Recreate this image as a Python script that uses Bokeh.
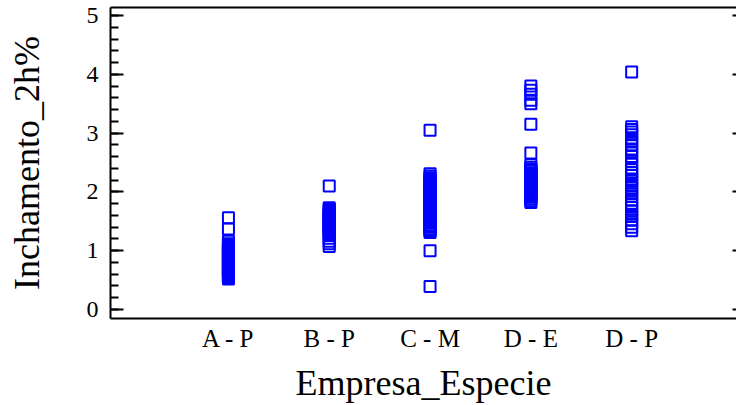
from bokeh.plotting import figure
from bokeh.models import (Range1d, LinearAxis, FixedTicker, SingleIntervalTicker,
                          CustomJSTickFormatter, ColumnDataSource)
from bokeh.embed import file_html
from bokeh.resources import INLINE

categories = ["A - P", "B - P", "C - M", "D - E", "D - P"]

ap_values = [1.56, 1.37, 1.16, 1.12, 1.10, 1.08, 1.06, 1.04, 1.02, 1.00, 0.98, 0.96,
             0.94, 0.92, 0.90, 0.88, 0.86, 0.84, 0.82, 0.80, 0.78, 0.76, 0.74, 0.72,
             0.70, 0.68, 0.66, 0.64, 0.62, 0.60, 0.58, 0.56, 0.54, 0.52]
bp_values = [2.10, 1.73, 1.71, 1.69, 1.67, 1.65, 1.63, 1.61, 1.59, 1.57, 1.55, 1.53,
             1.51, 1.49, 1.47, 1.45, 1.43, 1.41, 1.39, 1.37, 1.35, 1.33, 1.31, 1.28,
             1.26, 1.21, 1.16, 1.12, 1.07]
cm_values = [3.05, 2.31, 2.27, 2.24, 2.21, 2.19, 2.16, 2.13, 2.11, 2.08, 2.06, 2.03,
             2.01, 1.98, 1.96, 1.94, 1.91, 1.89, 1.86, 1.84, 1.82, 1.79, 1.77, 1.75,
             1.72, 1.70, 1.68, 1.65, 1.63, 1.61, 1.58, 1.56, 1.54, 1.51, 1.49, 1.47,
             1.44, 1.42, 1.40, 1.37, 1.35, 1.33, 1.31, 1.00, 0.39]
de_values = [3.80, 3.73, 3.66, 3.56, 3.50, 3.15, 2.66, 2.46, 2.42, 2.39, 2.37, 2.35,
             2.32, 2.30, 2.28, 2.25, 2.23, 2.21, 2.19, 2.16, 2.14, 2.12, 2.10, 2.07,
             2.05, 2.03, 2.01, 1.98, 1.96, 1.94, 1.91, 1.88, 1.85, 1.82]
dp_values = [4.04, 3.11, 3.06, 3.02, 2.97, 2.90, 2.85, 2.80, 2.73, 2.68, 2.60, 2.52,
             2.47, 2.38, 2.33, 2.28, 2.22, 2.18, 2.12, 2.07, 2.02, 1.97, 1.92, 1.86,
             1.80, 1.74, 1.68, 1.62, 1.58, 1.52, 1.46, 1.40, 1.34]

groups = [ap_values, bp_values, cm_values, de_values, dp_values]

xs, ys = [], []
for i, vals in enumerate(groups):
    xs += [i + 1] * len(vals)
    ys += vals
source = ColumnDataSource(data=dict(x=xs, y=ys))

FONT = "Liberation Serif"

p = figure(width=736, height=405, output_backend="svg", toolbar_location=None,
           x_range=Range1d(-0.17, 6.04), y_range=Range1d(-0.153, 5.136),
           min_border_left=110, min_border_right=0, min_border_top=7,
           min_border_bottom=87, x_axis_location="below", y_axis_location="left")
p.outline_line_color = None
p.grid.visible = False
p.background_fill_color = "white"
p.border_fill_color = "white"

p.scatter("x", "y", source=source, marker="square", size=11, line_color="#0000ff",
          line_width=2, fill_color=None)

# bottom axis
xa = p.xaxis[0]
xa.ticker = FixedTicker(ticks=[1, 2, 3, 4, 5])
xa.major_label_overrides = {i + 1: c for i, c in enumerate(categories)}
xa.major_tick_line_color = None
xa.major_tick_out = 0
xa.major_tick_in = 0
xa.minor_tick_line_color = None
xa.axis_line_width = 2
xa.axis_line_color = "black"
xa.major_label_standoff = 6
xa.major_label_text_font = FONT
xa.major_label_text_font_size = "25px"
xa.major_label_text_color = "black"
xa.axis_label = "Empresa_Especie"
xa.axis_label_text_font = FONT
xa.axis_label_text_font_size = "36px"
xa.axis_label_text_font_style = "normal"
xa.axis_label_text_color = "black"
xa.axis_label_standoff = 8

# left axis
ya = p.yaxis[0]
ya.ticker = SingleIntervalTicker(interval=1, num_minor_ticks=5)
ya.major_tick_in = 13
ya.major_tick_out = 0
ya.minor_tick_in = 8
ya.minor_tick_out = 0
ya.major_tick_line_width = 2
ya.minor_tick_line_width = 2
ya.axis_line_width = 2
ya.major_label_standoff = 12
ya.major_label_text_font = FONT
ya.major_label_text_font_size = "24px"
ya.major_label_text_color = "black"
ya.axis_label = "Inchamento_2h%"
ya.axis_label_text_font = FONT
ya.axis_label_text_font_size = "36px"
ya.axis_label_text_font_style = "normal"
ya.axis_label_text_color = "black"
ya.axis_label_standoff = 37

# top line
top = LinearAxis(ticker=FixedTicker(ticks=[]), axis_line_width=2,
                 major_tick_out=0, major_tick_in=0, minor_tick_out=0, minor_tick_in=0,
                 major_label_standoff=0)
p.add_layout(top, "above")

# right small ticks
right = LinearAxis(ticker=SingleIntervalTicker(interval=1, num_minor_ticks=0),
                   axis_line_color=None, major_tick_out=0, major_tick_in=4,
                   major_tick_line_width=2, minor_tick_line_color=None,
                   minor_tick_out=0, minor_tick_in=0, major_label_standoff=0,
                   formatter=CustomJSTickFormatter(code="return ''"))
p.add_layout(right, "right")

open("out.html", "w").write(file_html(p, INLINE))
